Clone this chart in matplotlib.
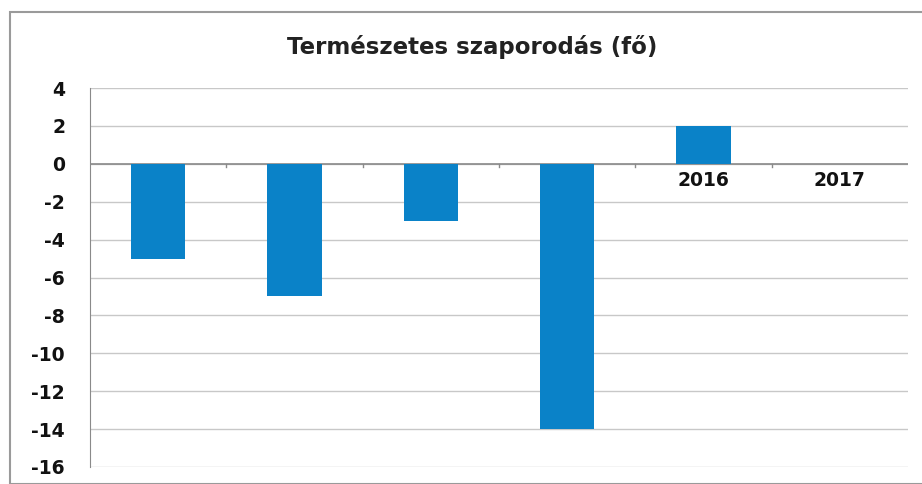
import matplotlib
matplotlib.use("Agg")
import matplotlib.pyplot as plt
from matplotlib.patches import Rectangle

years = ["2012", "2013", "2014", "2015", "2016", "2017"]
values = [-5, -7, -3, -14, 2, 0]
yticks = [4, 2, 0, -2, -4, -6, -8, -10, -12, -14, -16]

fig = plt.figure(figsize=(9.22, 4.84), dpi=100)
ax = fig.add_axes([90/922, 1 - 467/484, (908-90)/922, (467-88)/484])

x = list(range(len(years)))
ax.bar(x, values, width=0.4, color="#0a82c8", zorder=3)

ax.set_ylim(-16, 4)
ax.set_xlim(-0.5, len(years) - 0.5)
ax.set_yticks(yticks)
ax.set_yticklabels([str(t) for t in yticks], fontsize=13.5, fontweight="bold", color="#111111")
ax.grid(axis="y", color="#c8c8c8", linewidth=1, zorder=0)
ax.set_axisbelow(True)

for s in ["top", "right", "bottom"]:
    ax.spines[s].set_visible(False)
ax.spines["left"].set_color("#8a8a8a")
ax.tick_params(axis="y", length=0, pad=18)
ax.axhline(0, color="#8a8a8a", linewidth=1.2, zorder=2)

ax.set_xticks([])
for xi, lab in zip(x, years):
    ax.text(xi, -0.4, lab, ha="center", va="top", fontsize=13.5, fontweight="bold",
            color="#111111", zorder=1)
for b in [i + 0.5 for i in x[:-1]]:
    ax.plot([b, b], [0, -0.15], color="#8a8a8a", linewidth=1, zorder=2)

fig.text(472/922, 1 - 47/484, "Természetes szaporodás (fő)", ha="center", va="center",
         fontsize=16.5, fontweight="bold", color="#222222")

fig.patches.append(Rectangle((10/922, 0), 1, 1 - 12/484, transform=fig.transFigure,
                             fill=False, edgecolor="#9a9a9a", linewidth=1.5))

fig.savefig("out.png", dpi=100)
